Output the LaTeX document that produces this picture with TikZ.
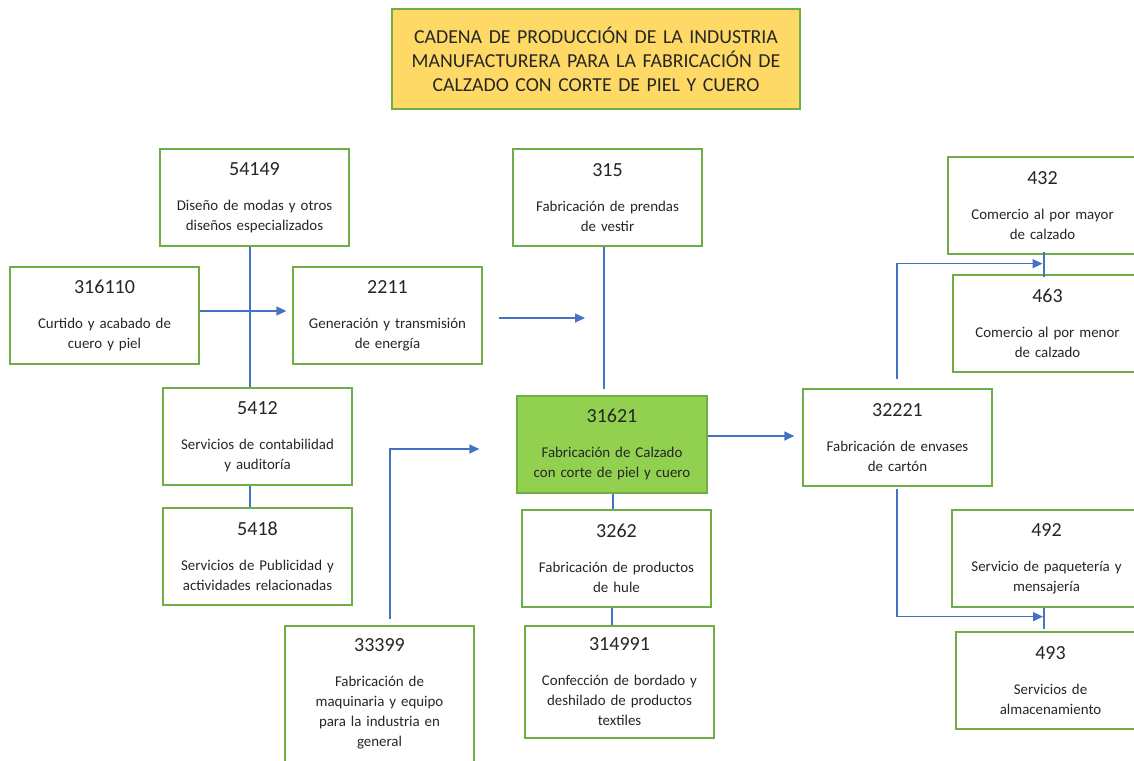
\documentclass[tikz,border=0pt]{standalone}
\usepackage{fontspec}
\setmainfont{Carlito}
\usetikzlibrary{arrows.meta,positioning}

\definecolor{boxgreen}{HTML}{70AD47}
\definecolor{linkblue}{HTML}{4472C4}
\definecolor{titleyellow}{HTML}{FFD966}
\definecolor{mainfill}{HTML}{92D050}

\newcommand{\codigo}[2]{{\fontsize{20}{24}\selectfont #1}\\[15pt]#2}

\begin{document}
\begin{tikzpicture}[x=1pt,y=-1pt,
  act/.style={draw=boxgreen,line width=1.3pt,fill=white,minimum width=189pt,
    minimum height=97pt,text width=180pt,align=center,inner sep=0pt,
    text=black!85,font=\fontsize{14.9}{20}\selectfont},
  link/.style={draw=linkblue,line width=1.3pt},
  arr/.style={link,-{Triangle[length=10pt,width=9pt]}}]

\useasboundingbox (0,0) rectangle (1134,760);

% title
\node [act,fill=titleyellow,minimum width=408pt,minimum height=100pt,text width=400pt,
  font=\fontsize{19.8}{24}\selectfont] (titulo) at (596,59)
  {CADENA DE PRODUCCIÓN DE LA INDUSTRIA\\MANUFACTURERA PARA LA FABRICACIÓN DE\\CALZADO CON CORTE DE PIEL Y CUERO};

% activity boxes
\def\boxes{54149/254.5/197.5/{Diseño de modas y otros\\diseños especializados},
  316110/104.5/315.5/{Curtido y acabado de\\cuero y piel},
  2211/387.5/315.5/{Generación y transmisión\\de energía},
  315/607.5/197.5/{Fabricación de prendas\\de vestir},
  432/1042.5/205.5/{Comercio al por mayor\\de calzado},
  463/1047.5/323.5/{Comercio al por menor\\de calzado},
  5412/257.5/436.5/{Servicios de contabilidad\\y auditoría},
  32221/897.5/437.5/{Fabricación de envases\\de cartón},
  5418/257.5/556.5/{Servicios de Publicidad y\\actividades relacionadas},
  3262/616.5/558.5/{Fabricación de productos\\de hule},
  492/1046.5/558.5/{Servicio de paquetería y\\mensajería},
  493/1050.5/680.5/{Servicios de\\almacenamiento}}
\foreach \num / \x / \y / \txt in \boxes
  \node [act] (c\num) at (\x,\y) {\codigo{\num}{\txt}};

\node [act,fill=mainfill,minimum width=190pt] (c31621) at (612,444.5)
  {\codigo{31621}{Fabricación de Calzado\\con corte de piel y cuero}};
\node [act,minimum height=112pt] (c314991) at (619.5,682)
  {\codigo{314991}{Confección de bordado y\\deshilado de productos\\textiles}};
\node [act,minimum height=136pt] (c33399) at (379.5,694)
  {\codigo{33399}{Fabricación de\\maquinaria y equipo\\para la industria en\\general}};

% connectors
\draw [link] ([xshift=-4.5pt]c54149.south) -- ([xshift=-7.5pt]c5412.north);
\draw [arr] ([yshift=4.5pt]c316110.east) -- ([xshift=-6pt,yshift=4.5pt]c2211.west);
\coordinate (libre1) at (499,318);
\coordinate (libre2) at (585,318);
\draw [arr] (libre1) -- (libre2);
\draw [link] ([xshift=-7.5pt]c5412.south) -- ([xshift=-7.5pt]c5418.north);
\draw [link] ([xshift=-3.5pt]c315.south) -- ([xshift=-8pt,yshift=6pt]c31621.north);
\draw [arr] ([yshift=8.5pt]c31621.east) -- ([xshift=-8pt,yshift=1.5pt]c32221.west);
\draw [link] ([xshift=1pt]c31621.south) -- ([xshift=-3.5pt]c3262.north);
\draw [link] ([xshift=-4.5pt]c3262.south) -- ([xshift=-7.5pt]c314991.north);
\draw [arr] ([xshift=10.5pt,yshift=6pt]c33399.north) |- ([xshift=-37pt,yshift=-4.5pt]c31621.west);
\draw [link] ([xshift=1.5pt,yshift=3pt]c432.south) -- ([xshift=-3.5pt,yshift=-3pt]c463.north);
\draw [arr] ([xshift=-0.5pt,yshift=9pt]c32221.north) |- ([yshift=-9pt]c432.south);
\draw [link] ([xshift=-2.5pt]c492.south) -- ([xshift=-6.5pt,yshift=2pt]c493.north);
\draw [arr] ([xshift=-0.5pt,yshift=-2pt]c32221.south) |- ([xshift=-3.5pt,yshift=-9pt]c492.south);

\end{tikzpicture}
\end{document}
